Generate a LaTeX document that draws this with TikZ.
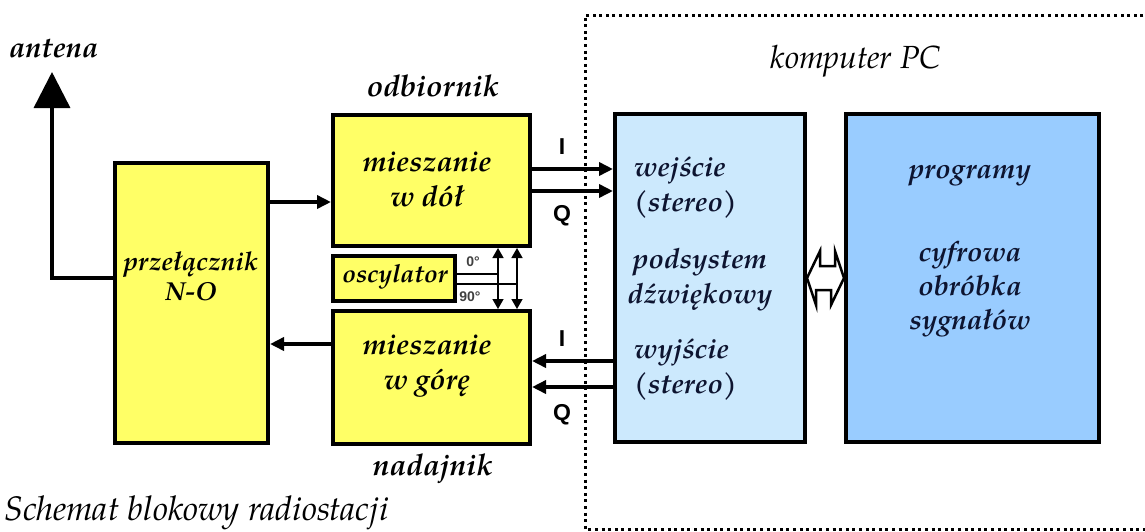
\documentclass[tikz,border=0pt]{standalone}
\usepackage{fontspec}
\setmainfont{TeX Gyre Pagella}
\newfontfamily\arialf{Liberation Sans}
\usetikzlibrary{arrows.meta,calc}
\definecolor{yel}{HTML}{FFFF66}
\definecolor{lblue}{HTML}{CCE9FD}
\definecolor{mblue}{HTML}{99CCFF}
\definecolor{navy}{HTML}{0D1430}
\definecolor{dgray}{HTML}{404040}
\begin{document}
\begin{tikzpicture}[x=1pt,y=-1pt,
  box/.style={draw, line width=4pt, inner sep=0pt, anchor=center},
  ybox/.style={box, fill=yel},
  conn/.style={line width=3.5pt, -{Triangle[length=14pt,width=13pt]}},
  oline/.style={line width=1.5pt},
  oarr/.style={line width=1.5pt, {Triangle[length=10pt,width=11pt]}-{Triangle[length=10pt,width=11pt]}},
  lab/.style={font=\fontsize{26}{30}\selectfont\bfseries\itshape, align=center, inner sep=0pt},
  olab/.style={lab, font=\fontsize{30}{30}\selectfont\bfseries\itshape},
  blab/.style={lab, text=navy, font=\fontsize{28}{35}\selectfont\bfseries\itshape},
  iq/.style={font=\fontsize{23}{23}\selectfont\arialf\bfseries, inner sep=0pt},
  deg/.style={font=\fontsize{14}{14}\selectfont\arialf\bfseries, text=dgray, inner sep=0pt},
  plain/.style={font=\fontsize{32}{30}\selectfont\itshape, inner sep=0pt}
]
\useasboundingbox (0,0) rectangle (1145,531);

% dotted computer frame
\draw[line width=3pt, dash pattern=on 3pt off 3.6pt] (1150,15) -- (585,15) -- (585,529) -- (1150,529);

% boxes
\node[ybox, minimum width=153pt, minimum height=280pt] (prz) at (191.5,303) {};
\node[ybox, minimum width=197pt, minimum height=131pt] (down) at (431.5,180.5) {};
\node[ybox, line width=3.5pt, minimum width=122pt, minimum height=45pt] (osc) at (394,278.5) {};
\node[ybox, minimum width=197pt, minimum height=133pt] (up) at (431.5,377.5) {};
\node[box, fill=lblue, minimum width=190pt, minimum height=328pt] (snd) at (710,278) {};
\node[box, fill=mblue, minimum width=253pt, minimum height=328pt] (prog) at (972.5,278) {};

% texts in boxes
\node[lab] (tprz) at (191,276) {przełącznik\\N-O};
\node[lab, font=\fontsize{29}{35}\selectfont\bfseries\itshape] (tdown) at (427,179) {mieszanie\\w dół};
\node[lab, font=\fontsize{25}{30}\selectfont\bfseries\itshape] (tosc) at (395,277) {oscylator};
\node[lab, font=\fontsize{29}{35}\selectfont\bfseries\itshape] (tup) at (427,366) {mieszanie\\w górę};
\node[blab, align=left, anchor=west] (twe) at (634,187.5) {wejście\\(stereo)};
\node[blab] (tpod) at (700,279.5) {podsystem\\dźwiękowy};
\node[blab, align=left, anchor=west] (twy) at (634,369.5) {wyjście\\(stereo)};
\node[blab] (tprog) at (970,176) {programy};
\node[blab, font=\fontsize{28}{34}\selectfont\bfseries\itshape] (tcyf) at (970,289) {cyfrowa\\obróbka\\sygnałów};

% outside labels
\node[olab, anchor=west, font=\fontsize{29}{30}\selectfont\bfseries\itshape] (tant) at (9,49) {antena};
\node[olab] (todb) at (433,86) {odbiornik};
\node[olab] (tnad) at (433,469) {nadajnik};
\node[plain] (tpc) at (856,61) {komputer PC};
\node[plain, font=\fontsize{34}{30}\selectfont\itshape, anchor=base west] (tsch) at (4,520) {Schemat blokowy radiostacji};

% antenna
\coordinate (anttip) at (52,72);
\draw[line width=3.5pt, -{Triangle[length=36pt,width=36pt]}] ([yshift=25pt]prz.west) -| (anttip);

% helper coordinates
\coordinate (a1) at ([yshift=-21.5pt]down.west);
\coordinate (a2) at ([yshift=33.5pt]up.west);
\coordinate (r1) at ([yshift=11.5pt]down.east);
\coordinate (r2) at ([yshift=-10.5pt]down.east);
\coordinate (t1) at ([yshift=16.5pt]up.east);
\coordinate (t2) at ([yshift=-9.5pt]up.east);
\coordinate (o1) at ([yshift=4.5pt]osc.east);
\coordinate (o2) at ([yshift=-5.5pt]osc.east);

% switch <-> mixers
\draw[conn] (prz.east |- a1) -- (a1);
\draw[conn] (a2) -- (prz.east |- a2);

% I/Q receiver
\draw[conn] (r1) -- (snd.west |- r1);
\draw[conn] (r2) -- (snd.west |- r2);
\node[iq] (ri) at (562,147) {I};
\node[iq] (rq) at (562,216) {Q};

% I/Q transmitter
\draw[conn] (snd.west |- t1) -- (t1);
\draw[conn] (snd.west |- t2) -- (t2);
\node[iq] (ti) at (562,339) {I};
\node[iq] (tq) at (562,415) {Q};

% oscillator outputs
\coordinate (v1) at (498,278);
\coordinate (v2) at (517,278);
\draw[oline] (o1) -- (o1 -| v1);
\draw[oline] (o2) -- (o2 -| v2);
\draw[oarr] (down.south -| v1) -- (up.north -| v1);
\draw[oarr] (down.south -| v2) -- (up.north -| v2);
\node[deg] (d0) at (473,262) {0°};
\node[deg] (d90) at (470,297) {90°};

% double arrow between sound subsystem and programs
\draw[line width=2.5pt, fill=white, line join=miter]
  (snd.east) -- ++(13,-27) -- ++(0,15) -- ++(15,0) -- ++(0,-15) -- (prog.west)
  -- ++(-13,27) -- ++(0,-15) -- ++(-15,0) -- ++(0,15) -- cycle;
\end{tikzpicture}
\end{document}
